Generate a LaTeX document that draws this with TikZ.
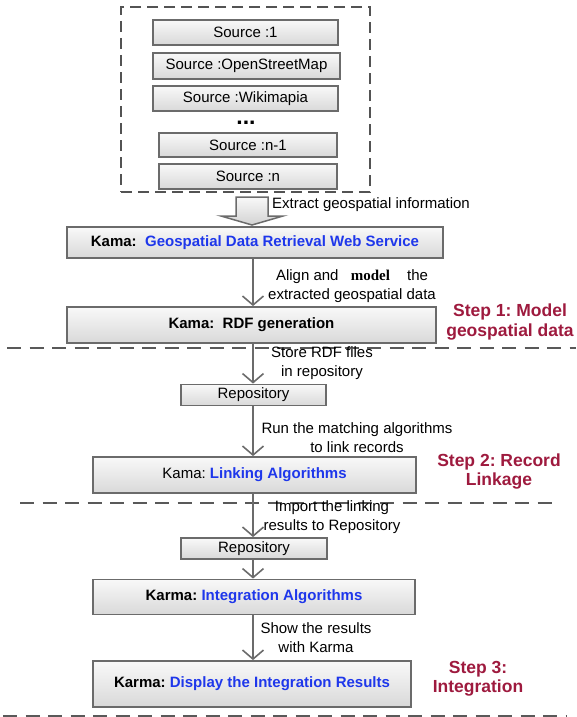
\documentclass[tikz,border=0pt]{standalone}
\usepackage{fontspec}
\setmainfont{Liberation Sans}
\newfontfamily\serifbf{Liberation Serif}
\usetikzlibrary{arrows.meta,calc}
\frenchspacing

\definecolor{boxline}{HTML}{6B6B6B}
\definecolor{linkblue}{RGB}{30,55,235}
\definecolor{stepred}{RGB}{158,26,62}

\tikzset{
  box/.style={draw=boxline, line width=1.8pt, top color=gray!5, bottom color=gray!30,
              inner sep=0pt, font=\fontsize{15}{18}\selectfont},
  arr/.style={draw=boxline, line width=1.6pt, -{Straight Barb[length=9pt,width=21pt]}},
  lbl/.style={align=center, inner sep=0pt, font=\fontsize{15}{19}\selectfont},
  steplbl/.style={align=center, inner sep=0pt, text=stepred,
                  font=\fontsize{17.5}{19.5}\selectfont\bfseries},
  sepline/.style={draw=gray!70!black, line width=1.3pt, dash pattern=on 14pt off 8.5pt},
  srcframe/.style={draw=gray!65!black, line width=1.7pt, dash pattern=on 11pt off 6pt,
                   inner sep=0pt},
  blockarrow/.style={draw=boxline, line width=1.5pt, top color=gray!5, bottom color=gray!35,
                     line join=miter}
}
\newcommand{\blu}[1]{\textcolor{linkblue}{\bfseries #1}}

\begin{document}
\begin{tikzpicture}[x=1pt, y=-1pt]
  \useasboundingbox (0,0) rectangle (576,717);

  % data sources
  \node[srcframe, minimum width=249pt, minimum height=185pt] (src) at (245.5,99.5) {};
  \node[box, minimum width=185pt, minimum height=25pt] (s1) at (245.5,32.5) {Source :1};
  \node[box, minimum width=187pt, minimum height=26pt] (s2) at (246.5,66) {Source :OpenStreetMap};
  \node[box, minimum width=185pt, minimum height=25pt] (s3) at (245.5,98.5) {Source :Wikimapia};
  \node[inner sep=0pt, font=\fontsize{23}{24}\selectfont\bfseries] (dots) at (246,123) {...};
  \node[box, minimum width=178pt, minimum height=24pt] (s4) at (248,145) {Source :n-1};
  \node[box, minimum width=178pt, minimum height=25pt] (s5) at (248,176.5) {Source :n};

  % processing chain
  \node[box, minimum width=376pt, minimum height=31pt] (kg) at (255,242.5)
    {\bfseries Kama:\ \ \blu{Geospatial Data Retrieval Web Service}};
  \node[box, minimum width=369pt, minimum height=36pt] (rdf) at (251.5,325)
    {\bfseries Kama:\ \ RDF generation};
  \node[box, minimum width=145pt, minimum height=21pt] (rep1) at (253.5,395) {Repository};
  \node[box, minimum width=323pt, minimum height=36pt] (link) at (254.5,475)
    {Kama: \blu{Linking Algorithms}};
  \node[box, minimum width=146pt, minimum height=21pt] (rep2) at (254,548.5) {Repository};
  \node[box, minimum width=322pt, minimum height=35pt] (integ) at (254,597)
    {\bfseries Karma: \blu{Integration Algorithms}};
  \node[box, minimum width=318pt, minimum height=46pt] (disp) at (252,684)
    {\bfseries Karma: \blu{Display the Integration Results}};

  % block arrow from the sources
  \coordinate (bt) at (252,197);
  \draw[blockarrow] ($(bt)+(-16,0)$) -- ($(bt)+(16,0)$) -- ($(bt)+(16,19)$)
    -- ($(bt)+(31,19)$) -- ($(bt)+(0,28)$) -- ($(bt)+(-31,19)$) -- ($(bt)+(-16,19)$) -- cycle;
  \node[lbl, anchor=west] (l0) at (272,205) {Extract geospatial information};

  % step separators
  \draw[sepline] (7,348) -- (576,348);
  \draw[sepline] (20,503) -- (557,503);
  \draw[sepline] (3,716) -- (566,716);

  % connectors
  \coordinate (ax) at (253,0);
  \draw[arr] (kg.south -| ax) -- (rdf.north -| ax);
  \draw[arr] (rdf.south -| ax) -- (rep1.north -| ax);
  \draw[arr] (rep1.south -| ax) -- (link.north -| ax);
  \draw[arr] (link.south -| ax) -- (rep2.north -| ax);
  \draw[arr] (rep2.south -| ax) -- (integ.north -| ax);
  \draw[arr] (integ.south -| ax) -- (disp.north -| ax);

  % connector labels
  \node[lbl] (l1) at (352,286.5)
    {Align and\hspace{8pt} {\serifbf\bfseries model}\hspace{13pt} the\\extracted geospatial data};
  \node[lbl] (l2) at (322,363.5) {Store RDF files\\in repository};
  \node[lbl] (l3) at (357,437.5) {Run the matching algorithms\\to link records};
  \node[lbl] (l4) at (332,517) {Import the linking\\results to Repository};
  \node[lbl] (l5) at (316,637.5) {Show the results\\with Karma};

  % step titles
  \node[steplbl] (st1) at (510,322) {Step 1: Model\\geospatial data};
  \node[steplbl] (st2) at (499,471.5) {Step 2: Record\\Linkage};
  \node[steplbl] (st3) at (478,678.5) {Step 3:\\Integration};
\end{tikzpicture}
\end{document}
